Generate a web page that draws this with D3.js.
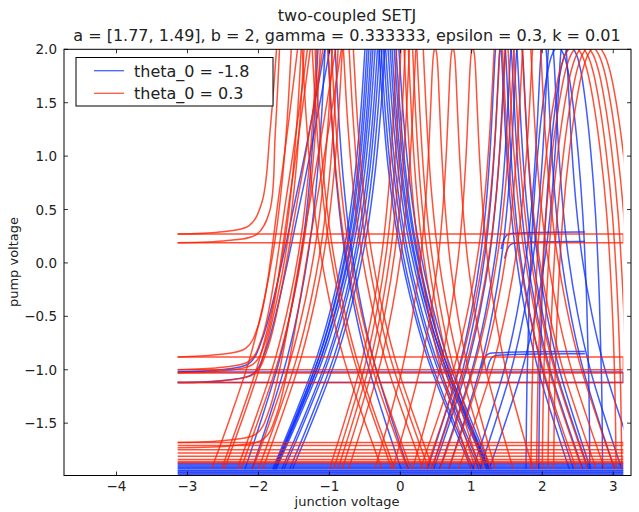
<!DOCTYPE html>
<html>
<head>
<meta charset="utf-8">
<script src="https://cdn.jsdelivr.net/npm/d3@7"></script>
<style>
body { margin: 0; background: #fff; }
text { font-family: "DejaVu Sans", sans-serif; fill: #222; }
</style>
</head>
<body>
<svg id="chart" width="639" height="512"></svg>
<script>
// tick labels
var xTicks = [-4, -3, -2, -1, 0, 1, 2, 3];
var yTicks = [-1.5, -1.0, -0.5, 0.0, 0.5, 1.0, 1.5, 2.0];
var seriesNames = ["theta_0 = -1.8", "theta_0 = 0.3"];

// loops: [apex x, half width at the bottom, apex y, shape (0 narrow, 1 round)]
var blueArches = [
  [-1.09, 1.1, 2.5, 0], [-0.99, 1.1, 2.5, 0],
  [-0.40, 1.4, 2.6, 0], [-0.37, 1.4, 2.6, 0], [-0.34, 1.45, 2.6, 0], [-0.31, 1.45, 2.6, 0], [-0.28, 1.5, 2.6, 0],
  [-0.25, 1.5, 2.6, 0], [-0.22, 1.45, 2.6, 0], [-0.19, 1.45, 2.6, 0], [-0.16, 1.4, 2.6, 0], [-0.12, 1.4, 2.6, 0],
  [1.38, 1.0, 2.15, 0], [1.44, 1.0, 2.15, 0], [1.52, 1.05, 2.15, 0], [1.60, 1.05, 2.15, 0], [1.68, 1.0, 2.15, 0],
  [2.02, 1.0, 2.1, 0], [2.12, 1.0, 2.1, 0], [2.22, 0.45, 2.03, 1], [2.30, 1.05, 2.1, 0], [2.40, 0.45, 2.03, 1]
];
var redArches = [
  [-1.46, 1.2, 2.5, 0], [-1.32, 1.2, 2.5, 0], [-1.28, 1.2, 2.5, 0], [-1.10, 1.2, 2.5, 0], [-1.05, 1.2, 2.5, 0],
  [-0.88, 1.2, 2.5, 0], [-0.80, 1.2, 2.5, 0], [-0.74, 1.2, 2.5, 0],
  [0.00, 1.0, 2.3, 0], [0.06, 1.0, 2.3, 0], [0.12, 1.0, 2.3, 0], [0.18, 1.0, 2.3, 0], [0.27, 1.0, 2.3, 0],
  [0.49, 0.85, 2.02, 0], [0.74, 0.85, 2.02, 0], [1.02, 0.85, 2.02, 0],
  [1.38, 1.1, 2.3, 0], [1.46, 1.1, 2.3, 0], [1.54, 1.1, 2.3, 0], [1.66, 1.1, 2.3, 0], [1.78, 1.1, 2.3, 0], [1.92, 1.1, 2.3, 0],
  [2.44, 0.6, 2.04, 1], [2.52, 0.6, 2.04, 1], [2.60, 0.6, 2.04, 1], [2.68, 0.6, 2.04, 1], [2.76, 0.6, 2.04, 1]
];
// fast runs that jump across the window at +-pi: [upper y, lower y] joined at the right edge
var blueRuns = [[-1.02, -1.12], [-1.875, -1.89], [-1.90, -1.915], [-1.925, -1.94], [-1.95, -1.96], [-1.97, -1.982]];
var redRuns = [[0.27, 0.19], [-0.88, -1.0], [-1.03, -1.12], [-1.68, -1.71], [-1.75, -1.78], [-1.81, -1.84], [-1.86, -1.87]];
// slow sideways stretches of the blue series: [y, x start, x end]
var blueStretches = [[0.28, 1.5, 2.6], [0.19, 1.55, 2.6], [-0.84, 1.22, 2.6], [-0.86, 1.3, 2.6]];
// runs that bend up on the left: [run y, bend x, x at the top]
var blueHooks = [[-1.02, -1.95, -1.05], [-1.12, -1.9, -0.98]];
var redHooks = [[0.27, -1.95, -1.74], [0.19, -1.84, -1.70], [-0.88, -2.0, -1.44], [-1.0, -1.95, -1.3],
  [-1.03, -1.9, -1.26], [-1.12, -1.88, -1.08], [-1.68, -1.85, -0.9], [-1.73, -1.75, -0.82]];
// shape of a leg: [share of the height from the bottom, share of the half width]
var legProfiles = [
  [[0, 1], [0.12, 0.76], [0.235, 0.55], [0.36, 0.38], [0.49, 0.25], [0.62, 0.165],
   [0.745, 0.11], [0.87, 0.07], [0.95, 0.045], [0.985, 0.025], [1, 0]],
  [[0, 1], [0.2, 0.97], [0.4, 0.9], [0.6, 0.78], [0.75, 0.63], [0.87, 0.46],
   [0.94, 0.32], [0.98, 0.18], [1, 0]]
];

var svg = d3.select("#chart");
var pL = 64, pR = 631, pT = 49.3, pB = 475.5;
var x = d3.scaleLinear().domain([-4.74, 3.25]).range([pL, pR]);
var y = d3.scaleLinear().domain([-1.99, 2]).range([pB, pT]);
var footY = -1.93;

svg.append("defs").append("clipPath").attr("id", "plot")
  .append("rect").attr("x", x(-Math.PI)).attr("y", pT)
  .attr("width", x(Math.PI) - x(-Math.PI)).attr("height", pB - pT);

var line = d3.line().x(function(d) { return x(d[0]); }).y(function(d) { return y(d[1]); })
  .curve(d3.curveCatmullRom.alpha(0.5));
var poly = d3.line().x(function(d) { return x(d[0]); }).y(function(d) { return y(d[1]); });

function archPoints(a) {
  var pts = [], prof = legProfiles[a[3]];
  var h = a[2] - footY;
  prof.forEach(function(p) { pts.push([a[0] - p[1] * a[1], footY + p[0] * h]); });
  prof.slice(0, -1).reverse().forEach(function(p) { pts.push([a[0] + p[1] * a[1], footY + p[0] * h]); });
  return pts;
}
function hookPoints(k) {
  var lv = k[0], b = k[1], t = k[2];
  return [[-Math.PI, lv], [b - 0.6, lv + 0.02], [b - 0.18, lv + 0.08], [b, lv + 0.3],
          [b + (t - b) * 0.55, lv + (2.05 - lv) * 0.55], [t, 2.05]];
}

var g = svg.append("g").attr("clip-path", "url(#plot)");
function drawSeries(arches, runs, hooks, color) {
  var s = g.append("g").attr("fill", "none").attr("stroke", color)
    .attr("stroke-width", 1.5).attr("stroke-opacity", 0.78);
  s.selectAll(".arch").data(arches).enter().append("path")
    .attr("d", function(d) { return line(archPoints(d)); });
  s.selectAll(".run").data(runs).enter().append("path")
    .attr("d", function(d) { return poly([[-Math.PI, d[0]], [Math.PI, d[0]], [Math.PI, d[1]], [-Math.PI, d[1]]]); });
  s.selectAll(".hook").data(hooks).enter().append("path")
    .attr("d", function(d) { return line(hookPoints(d)); });
  return s;
}
var bs = drawSeries(blueArches, blueRuns, blueHooks, "#0a2dff");
bs.selectAll(".stretch").data(blueStretches).enter().append("path")
  .attr("d", function(d) { return line([[d[1] - 0.08, d[0] - 0.15], [d[1], d[0] - 0.02], [d[1] + 0.2, d[0]], [d[2], d[0] + 0.01]]); });
drawSeries(redArches, redRuns, redHooks, "#ff2000");

// frame and ticks
svg.append("rect").attr("x", pL).attr("y", pT).attr("width", pR - pL).attr("height", pB - pT)
  .attr("fill", "none").attr("stroke", "#000").attr("stroke-width", 1);
var tk = svg.append("g").attr("stroke", "#000").attr("stroke-width", 0.8);
xTicks.forEach(function(v) {
  tk.append("line").attr("x1", x(v)).attr("x2", x(v)).attr("y1", pB).attr("y2", pB - 4);
  tk.append("line").attr("x1", x(v)).attr("x2", x(v)).attr("y1", pT).attr("y2", pT + 4);
});
yTicks.forEach(function(v) {
  tk.append("line").attr("x1", pL).attr("x2", pL + 4).attr("y1", y(v)).attr("y2", y(v));
  tk.append("line").attr("x1", pR).attr("x2", pR - 4).attr("y1", y(v)).attr("y2", y(v));
});
var fmtMinus = function(s) { return s.replace("-", "\u2212"); };
svg.selectAll(".xl").data(xTicks).enter().append("text")
  .attr("x", function(d) { return x(d); }).attr("y", 491).attr("text-anchor", "middle")
  .attr("font-size", 13.5).text(function(d) { return fmtMinus(String(d)); });
svg.selectAll(".yl").data(yTicks).enter().append("text")
  .attr("x", 57).attr("y", function(d) { return y(d) + 5; }).attr("text-anchor", "end")
  .attr("font-size", 13.5).text(function(d) { return fmtMinus(d.toFixed(1)); });

svg.append("text").attr("x", 347).attr("y", 506).attr("text-anchor", "middle")
  .attr("font-size", 13).text("junction voltage");
svg.append("text").attr("transform", "translate(18,262) rotate(-90)").attr("text-anchor", "middle")
  .attr("font-size", 13).text("pump voltage");
svg.append("text").attr("x", 347).attr("y", 21).attr("text-anchor", "middle")
  .attr("font-size", 16).text("two-coupled SETJ");
svg.append("text").attr("x", 347).attr("y", 41).attr("text-anchor", "middle")
  .attr("font-size", 16).text("a = [1.77, 1.49], b = 2, gamma = 0.333333, epsilon = 0.3, k = 0.01");

// legend
var lg = svg.append("g");
lg.append("rect").attr("x", 76).attr("y", 57.5).attr("width", 197).attr("height", 48.5)
  .attr("fill", "#fff").attr("stroke", "#000").attr("stroke-width", 1);
var colors = ["#0a2dff", "#ff2000"];
seriesNames.forEach(function(n, i) {
  var yy = 70.7 + i * 22.6;
  lg.append("line").attr("x1", 94).attr("x2", 124).attr("y1", yy).attr("y2", yy)
    .attr("stroke", colors[i]).attr("stroke-opacity", 0.75).attr("stroke-width", 1.3);
  lg.append("text").attr("x", 134).attr("y", yy + 6).attr("font-size", 16).text(n);
});
</script>
</body>
</html>
